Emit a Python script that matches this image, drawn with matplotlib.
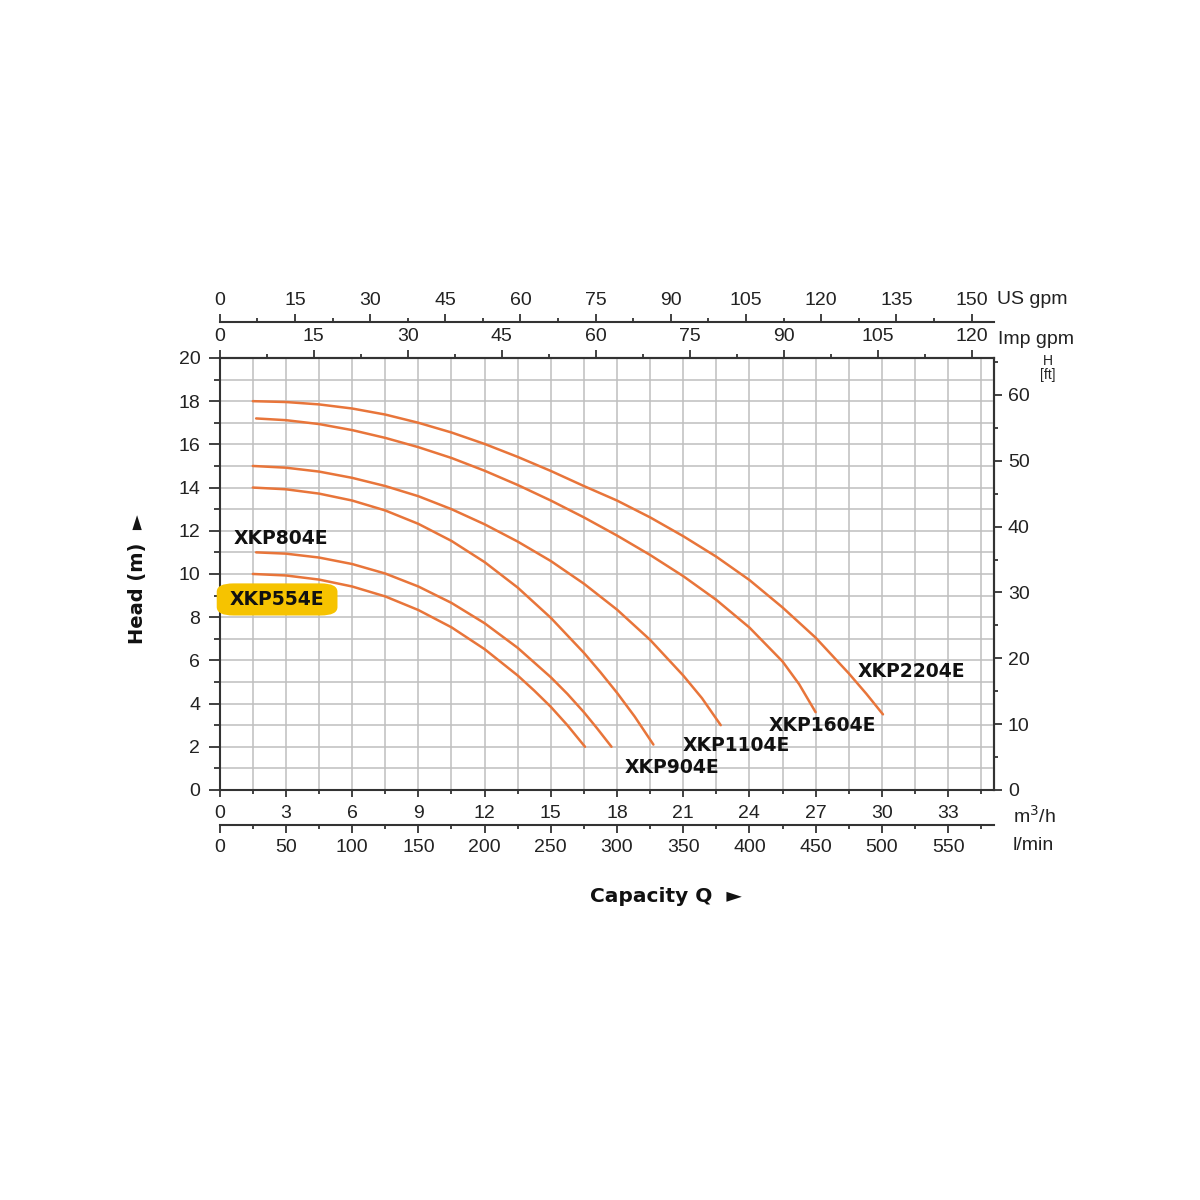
import matplotlib
matplotlib.use('Agg')
import matplotlib.pyplot as plt
from matplotlib.ticker import MultipleLocator

# ========== DATA (flow in m3/h, head in m) ==========
models = ['XKP554E', 'XKP804E', 'XKP904E', 'XKP1104E', 'XKP1604E', 'XKP2204E']

q_554 = [1.5, 3, 4.5, 6, 7.5, 9, 10.5, 12, 13.5, 14.25, 15, 15.75, 16.55]
h_554 = [10.0, 9.93, 9.74, 9.42, 8.96, 8.33, 7.53, 6.52, 5.3, 4.6, 3.85, 3.0, 2.0]

q_804 = [1.65, 3, 4.5, 6, 7.5, 9, 10.5, 12, 13.5, 15, 15.75, 16.5, 17.1, 17.75]
h_804 = [11.0, 10.94, 10.76, 10.46, 10.02, 9.42, 8.66, 7.72, 6.58, 5.22, 4.45, 3.6, 2.85, 2.0]

q_904 = [1.5, 3, 4.5, 6, 7.5, 9, 10.5, 12, 13.5, 15, 16.5, 17.25, 18, 18.8, 19.65]
h_904 = [14.0, 13.92, 13.72, 13.4, 12.94, 12.32, 11.53, 10.55, 9.37, 7.97, 6.35, 5.45, 4.5,
         3.4, 2.1]

q_1104 = [1.5, 3, 4.5, 6, 7.5, 9, 10.5, 12, 13.5, 15, 16.5, 18, 19.5, 21, 21.85, 22.7]
h_1104 = [15.0, 14.92, 14.74, 14.45, 14.07, 13.6, 13.0, 12.3, 11.5, 10.6, 9.55, 8.35, 6.95,
          5.3, 4.25, 3.0]

q_1604 = [1.65, 3, 4.5, 6, 7.5, 9, 10.5, 12, 13.5, 15, 16.5, 18, 19.5, 21, 22.5, 24, 25.5,
          26.25, 27.0]
h_1604 = [17.2, 17.12, 16.94, 16.66, 16.3, 15.87, 15.37, 14.78, 14.12, 13.4, 12.62, 11.78,
          10.88, 9.9, 8.8, 7.52, 5.95, 4.9, 3.6]

q_2204 = [1.5, 3, 4.5, 6, 7.5, 9, 10.5, 12, 13.5, 15, 16.5, 18, 19.5, 21, 22.5, 24, 25.5,
          27, 28.5, 29.3, 30.05]
h_2204 = [18.0, 17.96, 17.85, 17.66, 17.38, 17.0, 16.55, 16.02, 15.42, 14.77, 14.07, 13.4,
          12.62, 11.75, 10.8, 9.72, 8.45, 7.05, 5.4, 4.45, 3.5]

flows = [q_554, q_804, q_904, q_1104, q_1604, q_2204]
heads = [h_554, h_804, h_904, h_1104, h_1604, h_2204]

# unit conversions used by the chart's extra scales
M3H_TO_LMIN = 1000 / 60
M3H_TO_USGPM = 4.403
M3H_TO_IMPGPM = 120 / 34.07   # as drawn on the original chart
M_TO_FT = 3.281
# =======================================================================

plt.rcParams['font.family'] = ['Liberation Sans', 'DejaVu Sans']
TICK_FS = 14
AX_COL = '#333333'
TXT_COL = '#222222'
CURVE_COL = '#E8753A'

fig = plt.figure(figsize=(12, 12), dpi=100)
ax = fig.add_axes([0.1831, 0.3417, 0.6452, 0.36])
ax.set_xlim(0, 35.08)
ax.set_ylim(0, 20)

ax.xaxis.set_major_locator(MultipleLocator(3))
ax.xaxis.set_minor_locator(MultipleLocator(1.5))
ax.yaxis.set_major_locator(MultipleLocator(2))
ax.yaxis.set_minor_locator(MultipleLocator(1))
ax.grid(which='both', color='#bfbfbf', lw=1.1)
ax.set_axisbelow(True)
ax.tick_params(which='both', direction='out', color=AX_COL, width=1.3,
               labelsize=TICK_FS, labelcolor=TXT_COL)
ax.tick_params(axis='y', which='major', length=8, pad=6)
ax.tick_params(axis='y', which='minor', length=4)
ax.tick_params(axis='x', which='major', length=5, pad=6)
ax.tick_params(axis='x', which='minor', length=3)
for s in ax.spines.values():
    s.set_color(AX_COL)
    s.set_linewidth(1.5)


def style_secondary(sec, which_axis, major, minor, pad):
    axis = sec.xaxis if which_axis == 'x' else sec.yaxis
    axis.set_major_locator(MultipleLocator(major))
    axis.set_minor_locator(MultipleLocator(minor))
    sec.tick_params(which='both', direction='out', color=AX_COL, width=1.3,
                    labelsize=TICK_FS, labelcolor=TXT_COL, pad=pad)
    sec.tick_params(which='major', length=6)
    sec.tick_params(which='minor', length=3)
    for s in sec.spines.values():
        s.set_color(AX_COL)
        s.set_linewidth(1.5)


# bottom: l/min
lmin = ax.secondary_xaxis(-0.081, functions=(lambda q: q * M3H_TO_LMIN,
                                             lambda v: v / M3H_TO_LMIN))
style_secondary(lmin, 'x', 50, 25, 4)

# top: Imp gpm and US gpm
imp = ax.secondary_xaxis('top', functions=(lambda q: q * M3H_TO_IMPGPM,
                                           lambda v: v / M3H_TO_IMPGPM))
style_secondary(imp, 'x', 15, 7.5, 3)
us = ax.secondary_xaxis(1.0833, functions=(lambda q: q * M3H_TO_USGPM,
                                           lambda v: v / M3H_TO_USGPM))
style_secondary(us, 'x', 15, 7.5, 3)

# right: head in ft
ft = ax.secondary_yaxis('right', functions=(lambda m: m * M_TO_FT,
                                            lambda f: f / M_TO_FT))
style_secondary(ft, 'y', 10, 5, 4)

# pump curves
for q, h in zip(flows, heads):
    ax.plot(q, h, color=CURVE_COL, lw=1.8, solid_capstyle='round',
            solid_joinstyle='round', zorder=3)

# curve labels
lab_kw = dict(family='DejaVu Sans', weight='bold', fontsize=13.5, color='#111111',
              ha='center', va='center', zorder=5)
ax.text(2.6, 8.82, models[0], clip_on=False,
        bbox=dict(boxstyle='round,pad=0.7,rounding_size=0.9', fc='#F6C300', ec='none',
                  mutation_aspect=0.5),
        **lab_kw)
ax.text(2.75, 11.62, models[1], **lab_kw)
ax.text(20.5, 1.06, models[2], **lab_kw)
ax.text(23.4, 2.08, models[3], **lab_kw)
ax.text(27.3, 3.0, models[4], **lab_kw)
ax.text(31.35, 5.5, models[5], **lab_kw)

# unit captions
unit_kw = dict(fontsize=TICK_FS, color=TXT_COL, va='center', ha='left')
fig.text(997 / 1200, 1 - 300 / 1200, 'US gpm', **unit_kw)
fig.text(998 / 1200, 1 - 339 / 1200, 'Imp gpm', **unit_kw)
fig.text(1013 / 1200, 1 - 816 / 1200, 'm$^3$/h', **unit_kw)
fig.text(1013 / 1200, 1 - 845 / 1200, 'l/min', **unit_kw)
fig.text(1048 / 1200, 1 - 368 / 1200, 'H\n[ft]', fontsize=10, color=TXT_COL,
         ha='center', va='center', linespacing=0.95)

# axis titles
fig.text(138 / 1200, 1 - 579 / 1200, 'Head (m)  \u25ba', rotation=90, ha='center',
         va='center', fontsize=14, weight='bold', family='DejaVu Sans', color='#111111')
fig.text(666 / 1200, 1 - 897 / 1200, 'Capacity Q  \u25ba', ha='center', va='center',
         fontsize=14.5, weight='bold', family='DejaVu Sans', color='#111111')

fig.savefig('out.png', dpi=100, facecolor='white')
